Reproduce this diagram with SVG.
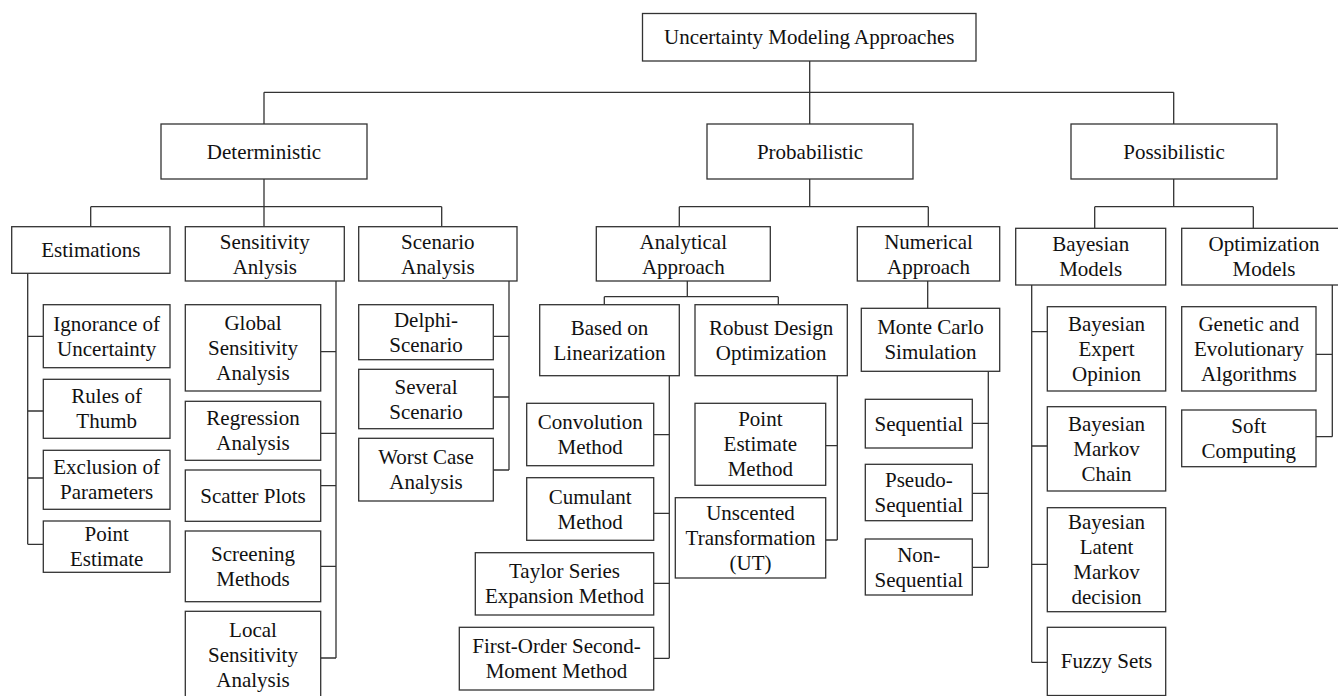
<svg xmlns="http://www.w3.org/2000/svg" width="1338" height="696" viewBox="0 0 1338 696">
<style>
.b{fill:#fff;stroke:#333;stroke-width:1.3}
.c{fill:none;stroke:#333;stroke-width:1.3}
.t text{font-size:21px;fill:#111;text-anchor:middle}
</style>
<rect width="1338" height="696" fill="#fff"/>
<g id="connectors" class="c">
<path d="M809.7,61V124M264,92.3H1173.7M264,92.3V124M1173.7,92.3V124"/>
<path d="M264,179V226.7M90.7,206.7H441.7M90.7,206.7V226.7M441.7,206.7V226.7"/>
<path d="M27.7,273.3V544.3M27.7,336.3H43.3M27.7,411H43.3M27.7,478H43.3M27.7,544.3H43.3"/>
<path d="M336,281V658M320.7,351.7H336M320.7,433.3H336M320.7,485.7H336M320.7,566.3H336M320.7,658H336"/>
<path d="M509,281V470M493.3,336.3H509M493.3,397H509M493.3,470H509"/>
<path d="M809.7,179V206.7M679.3,206.7H928.3M679.3,206.7V226.7M928.3,206.7V226.7"/>
<path d="M687.3,281V296.7M604.3,296.7H778.3M604.3,296.7V304.7M778.3,296.7V304.7"/>
<path d="M669.3,375.7V658.3M653.7,434.7H669.3M653.7,513.3H669.3M653.7,583.3H669.3M653.7,658.3H669.3"/>
<path d="M837.3,375.7V540M825.7,445.7H837.3M825.7,540H837.3"/>
<path d="M927.7,281V308.3M988.3,371.3V567.3M972.3,423.3H988.3M972.3,493.3H988.3M972.3,567.3H988.3"/>
<path d="M1173.7,179V206.7M1094.7,206.7H1253.3M1094.7,206.7V228.3M1253.3,206.7V228.3"/>
<path d="M1031.7,285V662.3M1031.7,331.7H1047.3M1031.7,446H1047.3M1031.7,564.3H1047.3M1031.7,662.3H1047.3"/>
<path d="M1332.3,285V436.7M1316,354.3H1332.3M1316,436.7H1332.3"/>
</g>
<g class="t" font-family="'Liberation Serif', 'DejaVu Serif', serif">
<g id="root"><rect class="b" x="642.5" y="13.5" width="333.5" height="47.5"/><text x="809.2" y="44">Uncertainty Modeling Approaches</text></g>
<g id="deterministic"><rect class="b" x="161" y="124" width="206" height="55"/><text x="264" y="158.5">Deterministic</text></g>
<g id="probabilistic"><rect class="b" x="707" y="124" width="206" height="55"/><text x="810" y="158.5">Probabilistic</text></g>
<g id="possibilistic"><rect class="b" x="1071" y="124" width="206" height="55"/><text x="1174" y="158.5">Possibilistic</text></g>
<g id="estimations"><rect class="b" x="11.7" y="226.7" width="158.3" height="46.6"/><text x="90.85" y="257">Estimations</text></g>
<g id="sensitivity"><rect class="b" x="185.3" y="226.7" width="159" height="54.3"/><text><tspan x="264.8" y="248.5">Sensitivity</tspan><tspan x="264.8" y="273.5">Anlysis</tspan></text></g>
<g id="scenario"><rect class="b" x="358.7" y="226.7" width="158.3" height="54.3"/><text><tspan x="437.85" y="248.5">Scenario</tspan><tspan x="437.85" y="273.5">Analysis</tspan></text></g>
<g id="ignorance"><rect class="b" x="43.3" y="304.7" width="126.7" height="63"/><text><tspan x="106.65" y="330.5">Ignorance of</tspan><tspan x="106.65" y="355.5">Uncertainty</tspan></text></g>
<g id="rules"><rect class="b" x="43.3" y="379.3" width="126.7" height="59"/><text><tspan x="106.65" y="403.3">Rules of</tspan><tspan x="106.65" y="428.3">Thumb</tspan></text></g>
<g id="exclusion"><rect class="b" x="43.3" y="450.3" width="126.7" height="59"/><text><tspan x="106.65" y="474.3">Exclusion of</tspan><tspan x="106.65" y="499.3">Parameters</tspan></text></g>
<g id="point-estimate"><rect class="b" x="43.3" y="521" width="126.7" height="51.3"/><text><tspan x="106.65" y="541.2">Point</tspan><tspan x="106.65" y="566.2">Estimate</tspan></text></g>
<g id="global"><rect class="b" x="185.3" y="304.7" width="135.4" height="86.3"/><text><tspan x="253" y="329.9">Global</tspan><tspan x="253" y="354.9">Sensitivity</tspan><tspan x="253" y="379.9">Analysis</tspan></text></g>
<g id="regression"><rect class="b" x="185.3" y="401.3" width="135.4" height="59"/><text><tspan x="253" y="425.3">Regression</tspan><tspan x="253" y="450.3">Analysis</tspan></text></g>
<g id="scatter"><rect class="b" x="185.3" y="470" width="135.4" height="51.3"/><text x="253" y="502.6">Scatter Plots</text></g>
<g id="screening"><rect class="b" x="185.3" y="531" width="135.4" height="70.7"/><text><tspan x="253" y="560.9">Screening</tspan><tspan x="253" y="585.9">Methods</tspan></text></g>
<g id="local"><rect class="b" x="185.3" y="611.3" width="135.4" height="88"/><text><tspan x="253" y="636.5">Local</tspan><tspan x="253" y="661.5">Sensitivity</tspan><tspan x="253" y="686.5">Analysis</tspan></text></g>
<g id="delphi"><rect class="b" x="358.7" y="304.7" width="134.6" height="55"/><text><tspan x="426" y="326.7">Delphi-</tspan><tspan x="426" y="351.7">Scenario</tspan></text></g>
<g id="several"><rect class="b" x="358.7" y="369.3" width="134.6" height="59.4"/><text><tspan x="426" y="393.5">Several</tspan><tspan x="426" y="418.5">Scenario</tspan></text></g>
<g id="worst-case"><rect class="b" x="358.7" y="438.3" width="134.6" height="62.7"/><text><tspan x="426" y="464.2">Worst Case</tspan><tspan x="426" y="489.2">Analysis</tspan></text></g>
<g id="analytical"><rect class="b" x="596.3" y="226.7" width="174" height="54.3"/><text><tspan x="683.3" y="248.5">Analytical</tspan><tspan x="683.3" y="273.5">Approach</tspan></text></g>
<g id="numerical"><rect class="b" x="857.3" y="226.7" width="142.4" height="54.3"/><text><tspan x="928.5" y="248.5">Numerical</tspan><tspan x="928.5" y="273.5">Approach</tspan></text></g>
<g id="linearization"><rect class="b" x="539.7" y="304.7" width="139.6" height="71"/><text><tspan x="609.5" y="334.7">Based on</tspan><tspan x="609.5" y="359.7">Linearization</tspan></text></g>
<g id="robust"><rect class="b" x="695" y="304.7" width="152.3" height="71"/><text><tspan x="771.15" y="334.7">Robust Design</tspan><tspan x="771.15" y="359.7">Optimization</tspan></text></g>
<g id="convolution"><rect class="b" x="526.7" y="403.3" width="127" height="62.4"/><text><tspan x="590.2" y="429">Convolution</tspan><tspan x="590.2" y="454">Method</tspan></text></g>
<g id="cumulant"><rect class="b" x="526.7" y="477.7" width="127" height="62.6"/><text><tspan x="590.2" y="503.5">Cumulant</tspan><tspan x="590.2" y="528.5">Method</tspan></text></g>
<g id="taylor"><rect class="b" x="475.3" y="552.7" width="178.4" height="62.3"/><text><tspan x="564.5" y="578.4">Taylor Series</tspan><tspan x="564.5" y="603.4">Expansion Method</tspan></text></g>
<g id="fosm"><rect class="b" x="459.3" y="627.3" width="194.4" height="62.7"/><text><tspan x="556.5" y="653.2">First-Order Second-</tspan><tspan x="556.5" y="678.2">Moment Method</tspan></text></g>
<g id="pem"><rect class="b" x="695" y="403.3" width="130.7" height="82"/><text><tspan x="760.35" y="426.3">Point</tspan><tspan x="760.35" y="451.3">Estimate</tspan><tspan x="760.35" y="476.3">Method</tspan></text></g>
<g id="unscented"><rect class="b" x="675.3" y="497.7" width="150.4" height="80.3"/><text><tspan x="750.5" y="519.9">Unscented</tspan><tspan x="750.5" y="544.9">Transformation</tspan><tspan x="750.5" y="569.9">(UT)</tspan></text></g>
<g id="monte-carlo"><rect class="b" x="861.3" y="308.3" width="138.4" height="63"/><text><tspan x="930.5" y="334.3">Monte Carlo</tspan><tspan x="930.5" y="359.3">Simulation</tspan></text></g>
<g id="sequential"><rect class="b" x="865.3" y="399.3" width="107" height="48.7"/><text x="918.8" y="430.6">Sequential</text></g>
<g id="pseudo"><rect class="b" x="865.3" y="464.3" width="107" height="56.4"/><text><tspan x="918.8" y="487">Pseudo-</tspan><tspan x="918.8" y="512">Sequential</tspan></text></g>
<g id="non-sequential"><rect class="b" x="865.3" y="539" width="107" height="56"/><text><tspan x="918.8" y="561.5">Non-</tspan><tspan x="918.8" y="586.5">Sequential</tspan></text></g>
<g id="bayesian-models"><rect class="b" x="1015.7" y="228.3" width="150" height="56.7"/><text><tspan x="1090.7" y="251.2">Bayesian</tspan><tspan x="1090.7" y="276.2">Models</tspan></text></g>
<g id="optimization-models"><rect class="b" x="1181.7" y="228.3" width="165" height="56.7"/><text><tspan x="1264" y="251.2">Optimization</tspan><tspan x="1264" y="276.2">Models</tspan></text></g>
<g id="expert"><rect class="b" x="1047.3" y="306.7" width="118.4" height="84.3"/><text><tspan x="1106.5" y="330.9">Bayesian</tspan><tspan x="1106.5" y="355.9">Expert</tspan><tspan x="1106.5" y="380.9">Opinion</tspan></text></g>
<g id="markov-chain"><rect class="b" x="1047.3" y="406.7" width="118.4" height="84.3"/><text><tspan x="1106.5" y="430.9">Bayesian</tspan><tspan x="1106.5" y="455.9">Markov</tspan><tspan x="1106.5" y="480.9">Chain</tspan></text></g>
<g id="latent"><rect class="b" x="1047.3" y="507.7" width="118.4" height="104"/><text><tspan x="1106.5" y="529.2">Bayesian</tspan><tspan x="1106.5" y="554.2">Latent</tspan><tspan x="1106.5" y="579.2">Markov</tspan><tspan x="1106.5" y="604.2">decision</tspan></text></g>
<g id="fuzzy"><rect class="b" x="1047.3" y="627.3" width="118.4" height="68.2"/><text x="1106.5" y="668.3">Fuzzy Sets</text></g>
<g id="genetic"><rect class="b" x="1181.7" y="306.7" width="134.3" height="84.3"/><text><tspan x="1248.85" y="330.9">Genetic and</tspan><tspan x="1248.85" y="355.9">Evolutionary</tspan><tspan x="1248.85" y="380.9">Algorithms</tspan></text></g>
<g id="soft"><rect class="b" x="1181.7" y="410" width="134.3" height="56.7"/><text><tspan x="1248.85" y="432.9">Soft</tspan><tspan x="1248.85" y="457.9">Computing</tspan></text></g>
</g>
</svg>
